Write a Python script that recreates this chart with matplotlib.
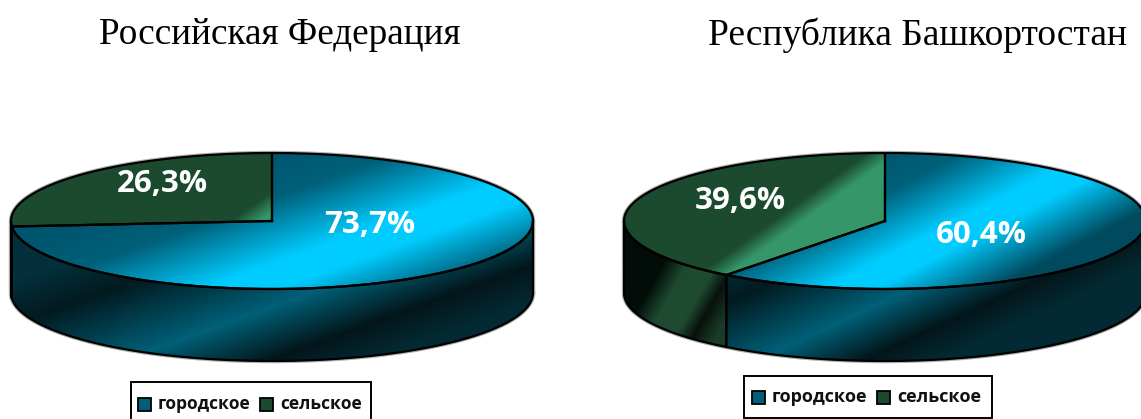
import numpy as np
import matplotlib
matplotlib.use('Agg')
from matplotlib import pyplot as plt
from matplotlib.path import Path
from matplotlib.patches import PathPatch, Rectangle

titles = ['Российская Федерация', 'Республика Башкортостан']
categories = ['городское', 'сельское']
urban = [73.7, 60.4]
rural = [26.3, 39.6]

W, H = 1141, 419
RX, RY, DEPTH = 261, 68, 72
CY = 221

urban_top = [(0, '#00566e'), (0.21, '#00607a'), (0.54, '#00ccff'), (0.68, '#00ccff'), (1, '#004a5e')]
urban_side = [(0, '#03303c'), (0.21, '#021a20'), (0.57, '#006078'), (0.82, '#03161a'), (1, '#032a34')]
green_top = [(0, '#1b4a2f'), (0.49, '#1b4a2f'), (0.74, '#35966a'), (1, '#35966a')]
green_side = [(0, '#020c08'), (0.25, '#020c08'), (0.45, '#1e4a30'), (0.68, '#1e4a30'), (0.82, '#08120c'), (1, '#1b3a28')]


def hex_rgb(c):
    return [int(c[i:i + 2], 16) / 255 for i in (1, 3, 5)]


def gradient(stops, cx, band, normal):
    # diagonal bands over the whole canvas, clipped to a face later
    yy, xx = np.mgrid[0:H, 0:W]
    t = ((xx - cx) * normal[0] + (yy - CY) * normal[1] - band[0]) / (band[1] - band[0])
    pos = [s[0] for s in stops]
    cols = np.array([hex_rgb(s[1]) for s in stops])
    return np.dstack([np.interp(t, pos, cols[:, i]) for i in range(3)])


def rim(cx, a0, a1, dy=0):
    a = np.radians(np.linspace(a0, a1, 200))
    return np.column_stack([cx + RX * np.sin(a), CY + dy - RY * np.cos(a)])


def fill(ax, pts, img, lw=1.6):
    closed = np.vstack([pts, pts[:1]])
    patch = PathPatch(Path(closed), facecolor='none', edgecolor='none')
    ax.add_patch(patch)
    im = ax.imshow(img, extent=(0, W, H, 0), interpolation='bilinear', zorder=2, aspect='auto')
    im.set_clip_path(patch)
    ax.plot(*closed.T, color='black', lw=lw, zorder=3, solid_joinstyle='round')


def pct(v):
    return f'{v:.1f}%'.replace('.', ',')


def draw_pie(ax, cx, u_share, r_share, u_lab, r_lab, top_band, top_n, side_band, side_n, g_band):
    end = 360 * u_share / (u_share + r_share)
    # pale halo round the outside, as in the source
    halo = np.vstack([rim(cx, 90, 270, DEPTH), rim(cx, 270, 450)])
    ax.plot(*np.vstack([halo, halo[:1]]).T, color='#b0b0b0', lw=3.2, zorder=1)

    # side walls
    u_wall = rim(cx, 90, min(end, 270))
    fill(ax, np.vstack([u_wall, u_wall[::-1] + [0, DEPTH]]), gradient(urban_side, cx, side_band, side_n))
    if end < 270:
        g_wall = rim(cx, end, 270)
        fill(ax, np.vstack([g_wall, g_wall[::-1] + [0, DEPTH]]),
             gradient(green_side, cx, (-200, -90), (0.87, 0.5)))

    # top faces
    centre = np.array([[cx, CY]])
    fill(ax, np.vstack([centre, rim(cx, 0, end)]), gradient(urban_top, cx, top_band, top_n))
    fill(ax, np.vstack([centre, rim(cx, end, 360)]), gradient(green_top, cx, g_band, (0.58, 0.81)))

    for xy, v in ((u_lab, u_share), (r_lab, r_share)):
        ax.text(xy[0], xy[1], pct(v), color='white', fontsize=22.5, family='Open Sans',
                weight='bold', ha='center', va='center', zorder=5)


def draw_legend(ax, x0, x1, y0, y1, ym, xs, size):
    ax.add_patch(Rectangle((x0, y0), x1 - x0, y1 - y0, fc='white', ec='black', lw=1.4, zorder=4))
    for x, c, name in zip(xs, ['#00607a', '#1b4a2f'], categories):
        ax.add_patch(Rectangle((x, ym - 6), 12.5, 12.5, fc=c, ec='black', lw=1.3, zorder=5))
        ax.text(x + 20, ym - 0.5, name, fontsize=size, family='Open Sans', weight='bold',
                ha='left', va='center', color='#111111', zorder=5)


fig = plt.figure(figsize=(W / 100, H / 100), dpi=100)
ax = fig.add_axes([0, 0, 1, 1])

draw_pie(ax, 272, urban[0], rural[0], (370, 225), (162, 184),
         (-60, 125), (0.34, 0.94), (-32, 165), (0.34, 0.94), (-58, 10))
draw_pie(ax, 885, urban[1], rural[1], (981, 235), (740, 201),
         (-60, 110), (0.46, 0.89), (-30, 150), (0.42, 0.91), (-100, -30))

draw_legend(ax, 131, 371, 382, 425, 404, [138, 260], 12.5)
draw_legend(ax, 744, 992, 376, 418, 397, [752, 877], 13)

ax.text(280, 35, titles[0], fontsize=26.8, family='Liberation Serif', ha='center', va='center')
ax.text(918, 35, titles[1], fontsize=27, family='Liberation Serif', ha='center', va='center')

ax.set_xlim(0, W)
ax.set_ylim(H, 0)
ax.axis('off')

plt.savefig('out.png', dpi=100)
